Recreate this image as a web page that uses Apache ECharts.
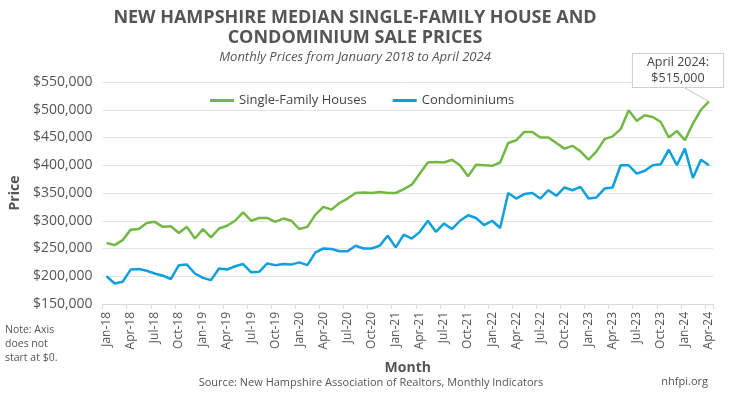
<!DOCTYPE html>
<html>
<head>
<meta charset="utf-8">
<script src="https://cdn.jsdelivr.net/npm/echarts@6/dist/echarts.min.js"></script>
<style>
  html, body { margin: 0; padding: 0; background: #fff; }
  #main { width: 730px; height: 396px; }
</style>
</head>
<body>
<div id="main"></div>
<script>
// monthly categories Jan-18 .. Apr-24
var monthNames = ['Jan','Feb','Mar','Apr','May','Jun','Jul','Aug','Sep','Oct','Nov','Dec'];
var months = [];
for (var y = 18; y <= 24; y++) {
    for (var m = 0; m < 12; m++) {
        if (y == 24 && m > 3) break;
        months.push(monthNames[m] + '-' + y);
    }
}

var singleFamily = [
    260000, 256000, 265000, 284000, 285000, 296000, 298000, 289000, 290000, 278000, 289000, 268000,
    285000, 270000, 286000, 291000, 300000, 315000, 300000, 305000, 305000, 298000, 304000, 300000,
    285000, 289000, 311000, 325000, 320000, 332000, 340000, 350000, 351000, 350000, 352000, 350000,
    350000, 357000, 365000, 385000, 405000, 406000, 405000, 410000, 400000, 380000, 401000, 400000,
    399000, 405000, 440000, 445000, 460000, 460000, 450000, 450000, 440000, 430000, 435000, 425000,
    410000, 425000, 447000, 452000, 465000, 499000, 480000, 490000, 487000, 478000, 450000, 462000,
    445000, 475000, 500000, 515000
];

var condos = [
    200000, 187000, 190000, 212000, 213000, 210000, 205000, 201000, 195000, 220000, 221000, 205000,
    197000, 193000, 214000, 212000, 218000, 222000, 207000, 208000, 223000, 220000, 222000, 221000,
    225000, 220000, 243000, 250000, 249000, 245000, 245000, 255000, 250000, 250000, 255000, 273000,
    252000, 275000, 268000, 280000, 300000, 280000, 295000, 285000, 300000, 310000, 305000, 292000,
    300000, 287000, 350000, 340000, 348000, 350000, 340000, 355000, 345000, 360000, 355000, 361000,
    340000, 342000, 358000, 360000, 400000, 400000, 385000, 390000, 400000, 402000, 428000, 400000,
    430000, 377000, 410000, 400000
];

var yMin = 150000, yMax = 550000, yStep = 50000;
var calloutText = 'April 2024:\n$515,000';
var lastIdx = singleFamily.length - 1;

var font = '"Open Sans", "Noto Sans", sans-serif';
var textColor = '#555';

var chart = echarts.init(document.getElementById('main'));
var option = {
    backgroundColor: '#fff',
    animation: false,
    textStyle: { fontFamily: font },
    title: [{
        text: 'NEW HAMPSHIRE MEDIAN SINGLE-FAMILY HOUSE AND\nCONDOMINIUM SALE PRICES',
        left: 350, top: 3, textAlign: 'center',
        textStyle: { fontFamily: font, fontSize: 18, fontWeight: 'bold', color: textColor, lineHeight: 20 },
        subtext: 'Monthly Prices from January 2018 to April 2024',
        subtextStyle: { fontFamily: font, fontSize: 13, fontStyle: 'italic', color: textColor },
        itemGap: 3
    }],
    legend: {
        top: 89, left: 205,
        itemWidth: 24, itemHeight: 3, itemGap: 26,
        icon: 'rect',
        textStyle: { fontFamily: font, fontSize: 13, color: '#444' },
        data: ['Single-Family Houses', 'Condominiums']
    },
    grid: { left: 92, right: 17, top: 82, bottom: 92 },
    xAxis: {
        type: 'category',
        data: months,
        boundaryGap: true,
        name: 'Month',
        nameLocation: 'middle',
        nameGap: 57,
        nameTextStyle: { fontFamily: font, fontSize: 14, fontWeight: 'bold', color: textColor },
        axisLine: { lineStyle: { color: '#d9d9d9' } },
        axisTick: { show: true, interval: 2, length: 5, lineStyle: { color: '#d9d9d9' } },
        axisLabel: { interval: 2, rotate: 90, fontSize: 12, color: textColor, margin: 8 }
    },
    yAxis: {
        type: 'value',
        min: yMin, max: yMax, interval: yStep,
        name: 'Price',
        nameLocation: 'middle',
        nameGap: 80,
        nameTextStyle: { fontFamily: font, fontSize: 14, fontWeight: 'bold', color: textColor },
        axisLine: { show: false },
        axisTick: { show: false },
        axisLabel: {
            fontSize: 14, color: textColor, margin: 10,
            formatter: function (v) { return '$' + v.toLocaleString('en-US'); }
        },
        splitLine: { lineStyle: { color: '#e3e3e3', width: 1 } }
    },
    series: [{
        name: 'Single-Family Houses',
        type: 'line',
        data: singleFamily,
        showSymbol: false,
        symbol: 'none',
        lineStyle: { width: 2.5, color: '#72b844' },
        itemStyle: { color: '#72b844' },
        // callout box for the last value
        markPoint: {
            symbol: 'circle',
            symbolSize: 0,
            data: [{ coord: [months[lastIdx], singleFamily[lastIdx]] }],
            label: {
                show: true,
                formatter: calloutText,
                position: 'inside',
                offset: [-31, -31],
                align: 'center',
                fontFamily: font,
                fontSize: 12.5,
                lineHeight: 16,
                color: '#444',
                backgroundColor: '#fff',
                borderColor: '#cfcfcf',
                borderWidth: 1,
                padding: [1, 14, 0, 14]
            }
        },
        // leader line from the box to the point
        markLine: {
            silent: true,
            symbol: 'none',
            label: { show: false },
            lineStyle: { color: '#c4c4c4', width: 1, type: 'solid' },
            data: [[
                { coord: [months[lastIdx - 3], 539000] },
                { coord: [months[lastIdx], singleFamily[lastIdx]] }
            ]]
        }
    }, {
        name: 'Condominiums',
        type: 'line',
        data: condos,
        showSymbol: false,
        symbol: 'none',
        lineStyle: { width: 2.5, color: '#0f9fdc' },
        itemStyle: { color: '#0f9fdc' }
    }],
    graphic: [{
        type: 'text', x: 5, y: 323,
        style: { text: 'Note: Axis\ndoes not\nstart at $0.', fontFamily: font, fontSize: 10.5, lineHeight: 14, fill: textColor }
    }, {
        type: 'text', x: 371, y: 377,
        style: { text: 'Source: New Hampshire Association of Realtors, Monthly Indicators', fontFamily: font, fontSize: 11, fill: textColor, align: 'center' }
    }, {
        type: 'text', x: 708, y: 376,
        style: { text: 'nhfpi.org', fontFamily: font, fontSize: 11, fill: textColor, align: 'right' }
    }]
};
chart.setOption(option);
</script>
</body>
</html>
